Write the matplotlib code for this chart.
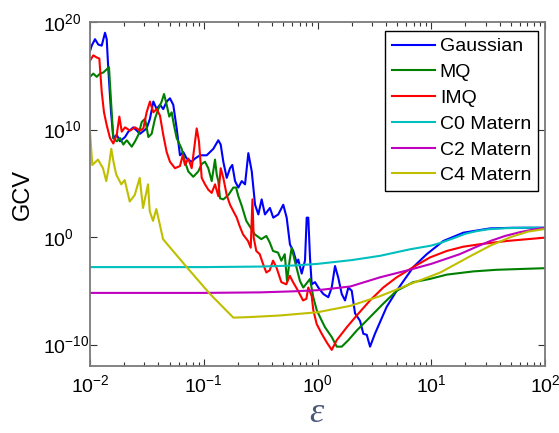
import numpy as np
import matplotlib
matplotlib.use("Agg")
import matplotlib.pyplot as plt
from matplotlib.ticker import LogLocator, NullLocator, FixedLocator

plt.rcParams['font.family'] = ['Liberation Sans', 'DejaVu Sans']
plt.rcParams['mathtext.fontset'] = 'custom'
plt.rcParams['mathtext.rm'] = 'Liberation Sans'
plt.rcParams['mathtext.it'] = 'Liberation Sans:italic'

# ---- data (log10 of epsilon, log10 of GCV) ----
gauss_log_eps = [-2.0, -1.985, -1.956, -1.927, -1.897, -1.868, -1.853, -1.839, -1.815, -1.795,
                 -1.765, -1.736, -1.692, -1.663, -1.619, -1.589, -1.560, -1.502, -1.473, -1.443,
                 -1.414, -1.385, -1.356, -1.326, -1.297, -1.268, -1.238, -1.209, -1.180, -1.150,
                 -1.106, -1.077, -1.033, -0.974, -0.916, -0.872, -0.851, -0.828, -0.798, -0.769,
                 -0.749, -0.725, -0.696, -0.666, -0.637, -0.608, -0.578, -0.549, -0.520, -0.491,
                 -0.462, -0.418, -0.389, -0.345, -0.301, -0.271, -0.242, -0.213, -0.183, -0.169,
                 -0.139, -0.110, -0.095, -0.081, -0.066, -0.051, -0.022, 0.007, 0.051, 0.095,
                 0.125, 0.154, 0.183, 0.213, 0.242, 0.271, 0.301, 0.330, 0.374, 0.403,
                 0.433, 0.462, 0.505, 0.608, 0.696, 0.842, 0.960, 1.106, 1.282, 1.516,
                 1.721, 2.0]
gauss_log_gcv = [17.3, 17.8, 18.4, 17.9, 17.8, 19.0, 18.4, 15.6, 11.6, 9.2,
                 9.5, 8.9, 9.3, 9.8, 10.2, 9.9, 9.6, 10.1, 11.0, 12.6,
                 11.9, 12.3, 11.9, 12.6, 12.9, 12.3, 10.1, 7.6, 7.9, 7.3,
                 7.0, 7.3, 7.6, 7.6, 8.2, 9.0, 8.6, 7.0, 5.5, 6.4,
                 6.7, 5.2, 4.6, 5.2, 4.9, 7.8, 6.1, 3.0, 2.1, 3.5,
                 2.1, 2.7, 1.8, 2.1, 3.0, 1.8, -0.7, -1.3, -2.4, -2.1,
                 -3.4, -2.2, 1.8, 1.8, -1.9, -4.4, -4.2, -4.7, -5.3, -5.6,
                 -4.7, -2.7, -3.8, -5.3, -5.9, -4.7, -5.0, -7.1, -7.8, -9.0,
                 -9.1, -10.2, -9.0, -6.5, -5.0, -2.8, -1.6, -0.37, 0.4, 0.8,
                 0.86, 0.86]

mq_log_eps = [-2.0, -1.971, -1.941, -1.912, -1.883, -1.853, -1.833, -1.815, -1.795, -1.765,
              -1.736, -1.707, -1.677, -1.633, -1.604, -1.575, -1.545, -1.516, -1.487, -1.458,
              -1.429, -1.400, -1.370, -1.349, -1.326, -1.303, -1.282, -1.262, -1.238, -1.194,
              -1.165, -1.136, -1.092, -1.048, -1.018, -0.989, -0.960, -0.930, -0.901, -0.886,
              -0.872, -0.857, -0.828, -0.784, -0.740, -0.716, -0.696, -0.666, -0.626, -0.590,
              -0.552, -0.494, -0.450, -0.420, -0.391, -0.347, -0.318, -0.288, -0.268, -0.245,
              -0.227, -0.200, -0.154, -0.125, -0.095, -0.066, -0.037, -0.007, 0.022, 0.066,
              0.125, 0.169, 0.213, 0.271, 0.345, 0.462, 0.578, 0.696, 0.842, 0.989,
              1.136, 1.370, 1.575, 2.0]
mq_log_gcv = [14.9, 15.2, 14.9, 15.2, 15.3, 15.6, 15.8, 12.6, 9.2, 8.9,
              9.2, 8.6, 9.0, 8.4, 8.9, 9.5, 10.7, 11.0, 9.3, 9.6,
              11.0, 11.9, 12.6, 13.3, 12.3, 11.2, 11.6, 10.4, 9.2, 8.2,
              7.0, 6.1, 5.6, 6.1, 6.8, 7.0, 6.4, 5.2, 7.2, 5.8,
              5.2, 3.6, 3.5, 3.9, 4.6, 4.6, 3.8, 2.9, 1.5, 0.9,
              0.25, -0.2, 0.1, -0.5, -1.3, -1.45, -2.2, -1.6, -4.1, -2.2,
              -1.0, -2.2, -4.1, -4.7, -4.3, -3.9, -5.6, -6.8, -7.45, -8.4,
              -9.3, -10.2, -10.2, -9.6, -8.7, -7.45, -6.2, -5.0, -4.2, -3.9,
              -3.5, -3.2, -3.05, -2.9]

imq_log_eps = [-2.0, -1.971, -1.941, -1.918, -1.897, -1.877, -1.853, -1.824, -1.795, -1.765,
               -1.742, -1.721, -1.692, -1.648, -1.604, -1.560, -1.531, -1.502, -1.473, -1.443,
               -1.414, -1.385, -1.356, -1.326, -1.297, -1.253, -1.209, -1.185, -1.165, -1.136,
               -1.106, -1.062, -1.042, -1.018, -0.989, -0.960, -0.930, -0.901, -0.872, -0.851,
               -0.828, -0.798, -0.769, -0.740, -0.710, -0.684, -0.655, -0.611, -0.587, -0.572,
               -0.561, -0.538, -0.508, -0.479, -0.450, -0.420, -0.391, -0.362, -0.318, -0.274,
               -0.244, -0.215, -0.171, -0.127, -0.098, -0.081, -0.051, -0.037, -0.007, 0.037,
               0.081, 0.125, 0.169, 0.257, 0.345, 0.462, 0.578, 0.696, 0.842, 0.989,
               1.136, 1.282, 1.429, 1.663, 2.0]
imq_log_gcv = [16.4, 16.9, 16.7, 16.6, 13.5, 11.6, 10.4, 9.2, 8.7, 9.5,
               11.2, 9.8, 10.2, 9.9, 10.2, 9.9, 10.1, 11.6, 12.6, 11.6,
               11.9, 11.3, 9.5, 7.9, 7.0, 6.4, 6.6, 7.6, 6.7, 7.3,
               6.4, 10.1, 8.9, 5.5, 4.9, 4.4, 4.1, 4.9, 3.8, 6.4,
               5.5, 3.9, 3.0, 2.4, 1.8, 1.0, 0.25, -0.37, -1.0, 3.5,
               -0.06, -1.3, -1.6, -2.5, -3.3, -3.1, -2.2, -2.8, -4.2, -4.4,
               -3.6, -4.2, -5.0, -5.9, -5.75, -4.7, -5.5, -6.8, -8.1, -9.0,
               -9.8, -10.5, -9.6, -8.4, -7.3, -5.9, -4.7, -3.75, -2.8, -1.9,
               -1.3, -0.9, -0.67, -0.37, -0.06]

c0_log_eps = [-2.0, -1.0, -0.5, -0.2, 0.0, 0.3, 0.55, 0.81, 1.0, 1.08,
              1.2, 1.3, 1.4, 1.5, 1.65, 1.8, 2.0]
c0_log_gcv = [-2.8, -2.8, -2.75, -2.65, -2.5, -2.15, -1.75, -1.15, -0.8, -0.55,
              -0.1, 0.3, 0.55, 0.72, 0.82, 0.86, 0.87]

c2_log_eps = [-2.0, -1.0, -0.5, -0.2, 0.0, 0.29, 0.55, 0.81, 1.0, 1.25,
              1.4, 1.52, 1.65, 1.78, 1.9, 2.0]
c2_log_gcv = [-5.2, -5.2, -5.15, -5.05, -4.95, -4.6, -3.75, -3.05, -2.5, -1.6,
              -0.9, -0.37, 0.1, 0.45, 0.7, 0.86]

c4_log_eps = [-2.0, -1.98, -1.93, -1.886, -1.857, -1.835, -1.813, -1.79, -1.769, -1.725,
              -1.695, -1.651, -1.607, -1.563, -1.534, -1.49, -1.475, -1.446, -1.417, -1.387,
              -1.358, -1.15, -0.945, -0.74, -0.6, -0.33, 0.0, 0.29, 0.55, 0.81,
              1.08, 1.34, 1.52, 1.7, 1.85, 2.0]
c4_log_gcv = [9.8, 6.7, 7.2, 6.4, 5.2, 6.5, 8.2, 6.8, 5.8, 4.9,
              5.3, 3.3, 3.9, 5.5, 2.7, 4.9, 2.4, 1.5, 2.6, 1.2,
              -0.2, -2.8, -5.3, -7.5, -7.45, -7.3, -7.0, -6.4, -5.5, -4.4,
              -3.3, -1.8, -0.8, 0.0, 0.5, 0.75]

labels = ['Gaussian', 'MQ', 'IMQ', 'C0 Matern', 'C2 Matern', 'C4 Matern']
colors = ['#0000ff', '#008000', '#ff0000', '#00bfbf', '#bf00bf', '#bfbf00']
series = [(gauss_log_eps, gauss_log_gcv), (mq_log_eps, mq_log_gcv),
          (imq_log_eps, imq_log_gcv), (c0_log_eps, c0_log_gcv),
          (c2_log_eps, c2_log_gcv), (c4_log_eps, c4_log_gcv)]

fig = plt.figure(figsize=(5.59, 4.33), dpi=100)
ax = fig.add_axes([90 / 559, 1 - 366 / 433, 455 / 559, 344 / 433])

for (lx, ly), lab, col in zip(series, labels, colors):
    ax.plot(np.power(10.0, lx), np.power(10.0, ly), color=col, lw=1.5, label=lab)

ax.set_xscale('log')
ax.set_yscale('log')
ax.set_xlim(1e-2, 1e2)
ax.set_ylim(1e-12, 1e20)
ax.yaxis.set_major_locator(FixedLocator([1e-10, 1e0, 1e10, 1e20]))
ax.yaxis.set_minor_locator(NullLocator())
ax.xaxis.set_major_locator(LogLocator(base=10, numticks=10))
ax.xaxis.set_minor_locator(LogLocator(base=10, subs=np.arange(2, 10), numticks=20))

ax.tick_params(which='both', direction='in', top=True, right=True, color='#333333',
               labelsize=14)
ax.tick_params(which='major', length=5, width=0.8)
ax.tick_params(which='minor', length=3, width=0.8)
ax.tick_params(axis='x', pad=6)
ax.tick_params(axis='y', pad=34)
for t in ax.yaxis.get_major_ticks():
    t.label1.set_horizontalalignment('left')

for s in ax.spines.values():
    s.set_color('#7a7a7a')
    s.set_linewidth(1.3)

ax.set_ylabel('GCV', fontsize=17)
ax.yaxis.set_label_coords((34 - 90) / 455, 0.5)
ax.set_xlabel('ε', fontsize=26, family=['Liberation Serif', 'DejaVu Serif'],
              style='italic', color='#4a5878', va='center')
ax.xaxis.set_label_coords((316 - 90) / 455, (366 - 414) / 344)

leg = ax.legend(loc='upper right', bbox_to_anchor=(538 / 559, 1 - 31 / 433),
                bbox_transform=fig.transFigure, borderaxespad=0, fontsize=14,
                fancybox=False, framealpha=1, edgecolor='black',
                handlelength=2.2, handletextpad=0.25, labelspacing=0.42,
                borderpad=0.35)
leg.get_frame().set_linewidth(1.0)

fig.savefig('out.png', dpi=100)
